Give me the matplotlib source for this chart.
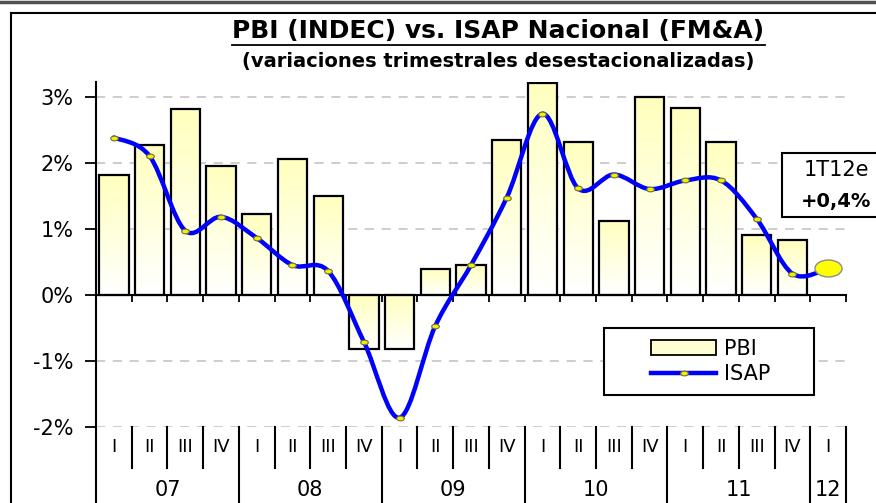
import numpy as np
import matplotlib
matplotlib.use("Agg")
import matplotlib.pyplot as plt
from matplotlib.path import Path
from matplotlib.patches import PathPatch, Rectangle, Patch
from matplotlib.lines import Line2D
from matplotlib.colors import LinearSegmentedColormap
from matplotlib.transforms import Affine2D

# trimestres 07.I ... 12.I
quarters = ["I", "II", "III", "IV"] * 5 + ["I"]
years = ["07", "08", "09", "10", "11", "12"]

# PBI (INDEC), var. % trimestral desestacionalizada (07.I - 11.IV)
pbi = [1.81, 2.26, 2.81, 1.95, 1.22, 2.05, 1.49, -0.82, -0.82, 0.39,
       0.45, 2.34, 3.21, 2.31, 1.12, 3.00, 2.82, 2.31, 0.90, 0.83]
# ISAP Nacional (FM&A), 07.I - 12.I (ultimo = estimado)
isap = [2.38, 2.10, 0.97, 1.18, 0.86, 0.45, 0.36, -0.71, -1.86, -0.47,
        0.45, 1.47, 2.74, 1.61, 1.82, 1.60, 1.73, 1.73, 1.15, 0.32, 0.40]
est_label = ["1T12e", "+0,4%"]

n = len(quarters)
x = np.arange(n)
xb = x[:len(pbi)]

fig = plt.figure(figsize=(8.76, 5.03), dpi=100)
ax = fig.add_axes([96 / 876, 76 / 503, 750 / 876, 345 / 503])

# barras con degradado amarillo -> blanco
cmap = LinearSegmentedColormap.from_list("amarillo", ["#ffffff", "#ffffbe"])
grad = np.linspace(1, 0, 100).reshape(-1, 1)
bars = ax.bar(xb, pbi, width=0.82, facecolor="none", edgecolor="black",
              linewidth=1.6, zorder=3)
for b in bars:
    x0, w = b.get_x(), b.get_width()
    y0, h = b.get_y(), b.get_height()
    lo, hi = min(y0, y0 + h), max(y0, y0 + h)
    ax.imshow(grad, cmap=cmap, vmin=0, vmax=1, extent=[x0, x0 + w, lo, hi],
              aspect="auto", origin="upper", zorder=2)

# linea suavizada (tipo excel)
pts = np.column_stack([x, isap])
ext = np.vstack([pts[0], pts, pts[-1]])
verts = [pts[0]]
codes = [Path.MOVETO]
for i in range(len(pts) - 1):
    p0, p1, p2, p3 = ext[i], ext[i + 1], ext[i + 2], ext[i + 3]
    verts += [p1 + (p2 - p0) / 6, p2 - (p3 - p1) / 6, p2]
    codes += [Path.CURVE4] * 3
ax.add_patch(PathPatch(Path(verts, codes), fill=False, edgecolor="#0000ff",
                       lw=3.2, zorder=4, capstyle="round", joinstyle="round"))

oval = Path.unit_circle().transformed(Affine2D().scale(1.6, 1))
ax.plot(x[:-1], isap[:-1], ls="none", marker=oval, ms=5.5, mfc="#f0f000",
        mec="#6e6e3c", mew=0.8, zorder=5)
ax.plot(x[-1], isap[-1], ls="none", marker=oval, ms=19.5, mfc="#ffff00",
        mec="#8c8c8c", mew=1, zorder=5)

ax.set_xlim(-0.5, n - 0.5)
ax.set_ylim(-2, 3.22)

# ejes
for s in ["top", "right"]:
    ax.spines[s].set_visible(False)
ax.spines["left"].set_linewidth(1.5)
ax.spines["bottom"].set_linewidth(1.5)
ax.spines["bottom"].set_position(("data", 0))
ax.set_yticks([-2, -1, 0, 1, 2, 3])
ax.set_yticklabels([f"{v}%" for v in [-2, -1, 0, 1, 2, 3]])
ax.tick_params(axis="y", length=8, width=1.3, pad=8, labelsize=15)
ax.set_xticks(np.arange(n + 1) - 0.5)
ax.set_xticklabels([])
ax.tick_params(axis="x", length=5, width=1.3, direction="out")
ax.set_axisbelow(True)
ax.yaxis.grid(True, color="#c0c0c0", ls=(0, (6, 5)), lw=1.1)

# rotulos de trimestres y anios
tr = ax.get_xaxis_transform()
bottom = -76 / 345
starts = [i for i, q in enumerate(quarters) if q == "I"]
ends = starts[1:] + [n]
for i in range(n + 1):
    y_end = bottom if (i in starts or i == n) else -0.119
    ax.plot([i - 0.5, i - 0.5], [0, y_end], color="black", lw=1.5,
            transform=tr, clip_on=False, zorder=6)
for xi, q in zip(x, quarters):
    ax.text(xi, -0.058, q, transform=tr, ha="center", va="center", fontsize=13)
for yr, a, b in zip(years, starts, ends):
    ax.text((a + b - 1) / 2, -0.183, yr, transform=tr, ha="center",
            va="center", fontsize=15)

# leyenda
ax.add_patch(Rectangle((0.677, 0.093), 0.28, 0.194, transform=ax.transAxes,
                       facecolor="white", edgecolor="black", lw=1.5, zorder=7))
handles = [Patch(facecolor="#ffffd2", edgecolor="black", lw=1.3),
           Line2D([], [], color="#0000ff", lw=3.2, marker=oval, ms=5.5,
                  mfc="#f0f000", mec="#6e6e3c", mew=0.8)]
leg = ax.legend(handles, ["PBI", "ISAP"], loc="center",
                bbox_to_anchor=(0.82, 0.19), frameon=False, fontsize=15,
                handlelength=3.1, handletextpad=0.4, labelspacing=0.25,
                borderpad=0.2)
leg.set_zorder(8)

# recuadro del estimado
fig.add_artist(Rectangle((782 / 876, 1 - 217 / 503), 0.2, 64 / 503,
                         transform=fig.transFigure, facecolor="white",
                         edgecolor="black", lw=1.5))
fig.text(836 / 876, 1 - 170 / 503, est_label[0], ha="center", va="center",
         fontsize=15)
fig.text(836 / 876, 1 - 201 / 503, est_label[1], ha="center", va="center",
         fontsize=14, fontweight="bold")

# titulos
t = fig.text(0.569, 1 - 31 / 503, "PBI (INDEC) vs. ISAP Nacional (FM&A)",
             ha="center", va="center", fontsize=18, fontweight="bold")
fig.text(0.569, 1 - 62 / 503, "(variaciones trimestrales desestacionalizadas)",
         ha="center", va="center", fontsize=14, fontweight="bold")

# marco
fig.add_artist(Line2D([0, 1], [1 - 1.5 / 503] * 2, color="#505050", lw=2.5))
fig.add_artist(Line2D([11 / 876, 1], [1 - 13 / 503] * 2, color="black", lw=1.5))
fig.add_artist(Line2D([11 / 876, 11 / 876], [0, 1 - 13 / 503], color="black", lw=1.5))

fig.canvas.draw()
bb = t.get_window_extent().transformed(fig.transFigure.inverted())
fig.add_artist(Line2D([bb.x0, bb.x1], [bb.y0 - 0.003] * 2, color="black", lw=1.3))

fig.savefig("out.png", dpi=100, facecolor="white")
plt.close(fig)
